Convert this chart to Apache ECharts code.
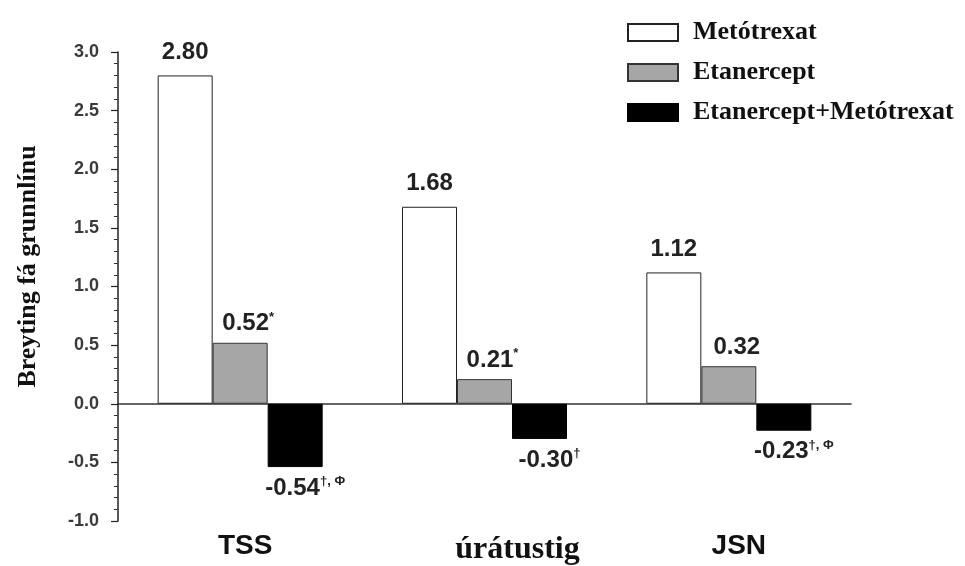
<!DOCTYPE html>
<html>
<head>
<meta charset="utf-8">
<script src="https://cdn.jsdelivr.net/npm/echarts@6/dist/echarts.min.js"></script>
<style>html,body{margin:0;padding:0;background:#fff;}#c{width:965px;height:566px;}</style>
</head>
<body>
<div id="c"></div>
<script>
const categories = ['TSS', 'úrátustig', 'JSN'];
const seriesNames = ['Metótrexat', 'Etanercept', 'Etanercept+Metótrexat'];
const mtxValues = [2.80, 1.68, 1.12];
const etnValues = [0.52, 0.21, 0.32];
const comboValues = [-0.54, -0.30, -0.23];
const etnMarks = ['*', '*', ''];
const comboMarks = ['†, Φ', '†', '†, Φ'];
const yTicks = [-1.0, -0.5, 0.0, 0.5, 1.0, 1.5, 2.0, 2.5, 3.0];
const yTitle = 'Breyting fá grunnlínu';

const SANS = '"Liberation Sans", Arial, sans-serif';
const SERIF = '"Liberation Serif", "Times New Roman", serif';

const chart = echarts.init(document.getElementById('c'), null, {renderer: 'canvas'});

const valRich = {
  v: {fontFamily: SANS, fontWeight: 'bold', fontSize: 24, color: '#222', lineHeight: 26},
  s: {fontFamily: SANS, fontWeight: 'bold', fontSize: 13, color: '#222', lineHeight: 14, verticalAlign: 'top'}
};

function fmt(v) { return (v < 0 ? '-' : '') + Math.abs(v).toFixed(2); }

const catStyle = {'TSS': 'a', 'úrátustig': 'b', 'JSN': 'c'};

const option = {
  backgroundColor: '#fff',
  animation: false,
  grid: {left: 118, top: 52, width: 733, bottom: 45, containLabel: false},
  legend: {
    orient: 'vertical', left: 622, top: 14,
    itemWidth: 50, itemHeight: 17, itemGap: 13,
    icon: 'rect',
    data: seriesNames,
    textStyle: {fontFamily: SERIF, fontWeight: 'bold', fontSize: 26, color: '#111', padding: [0, 0, 0, 10], lineHeight: 27}
  },
  xAxis: [{
    type: 'category', data: categories, position: 'bottom',
    axisLine: {show: false, onZero: false}, axisTick: {show: false},
    axisLabel: {
      margin: 10, interval: 0,
      formatter: function (v) { return '{' + catStyle[v] + '|' + v + '}'; },
      rich: {
        a: {fontFamily: SANS, fontWeight: 'bold', fontSize: 28, lineHeight: 30, color: '#111', padding: [0, 0, 0, 10]},
        b: {fontFamily: SERIF, fontWeight: 'bold', fontSize: 32, lineHeight: 34, color: '#111', padding: [3, 0, 0, 66]},
        c: {fontFamily: SANS, fontWeight: 'bold', fontSize: 28, lineHeight: 30, color: '#111', padding: [0, 0, 0, 20]}
      }
    }
  }, {
    type: 'category', data: categories, position: 'top',
    axisLine: {show: true, onZero: true, lineStyle: {color: '#333', width: 1.5}},
    axisTick: {show: false}, axisLabel: {show: false}
  }],
  yAxis: {
    type: 'value', min: yTicks[0], max: yTicks[yTicks.length - 1], interval: 0.5,
    name: yTitle, nameLocation: 'middle', nameRotate: 90, nameGap: 77,
    nameTextStyle: {fontFamily: SERIF, fontWeight: 'bold', fontSize: 26, color: '#111', padding: [0, 0, 0, 40]},
    axisLine: {show: true, lineStyle: {color: '#222', width: 1.5}},
    axisTick: {show: true, length: 7, lineStyle: {color: '#222', width: 1.2}},
    minorTick: {show: true, splitNumber: 5, length: 4, lineStyle: {color: '#333', width: 1}},
    splitLine: {show: false},
    axisLabel: {
      margin: 19, fontFamily: SANS, fontWeight: 'bold', fontSize: 18, color: '#3a3a3a',
      formatter: function (v) { return v.toFixed(1); }
    }
  },
  series: [{
    name: seriesNames[0], type: 'bar', data: mtxValues, barWidth: 55, barGap: '0%',
    itemStyle: {color: '#ffffff', borderColor: '#222', borderWidth: 1},
    label: {show: true, position: 'top', distance: 10, formatter: function (p) { return '{v|' + fmt(p.value) + '}'; }, rich: valRich}
  }, {
    name: seriesNames[1], type: 'bar', data: etnValues, barWidth: 55, barGap: '0%',
    itemStyle: {color: '#a6a6a6', borderColor: '#333', borderWidth: 1},
    label: {show: true, position: 'top', distance: 6, offset: [8, 0],
      formatter: function (p) { const m = etnMarks[p.dataIndex]; return '{v|' + fmt(p.value) + '}' + (m ? '{s|' + m + '}' : ''); }, rich: valRich}
  }, {
    name: seriesNames[2], type: 'bar', data: comboValues, barWidth: 55, barGap: '0%',
    itemStyle: {color: '#000000', borderColor: '#000', borderWidth: 1},
    label: {show: true, position: 'bottom', distance: 8, offset: [10, 0],
      formatter: function (p) { const m = comboMarks[p.dataIndex]; return '{v|' + fmt(p.value) + '}' + (m ? '{s|' + m + '}' : ''); }, rich: valRich}
  }]
};
chart.setOption(option);
</script>
</body>
</html>
